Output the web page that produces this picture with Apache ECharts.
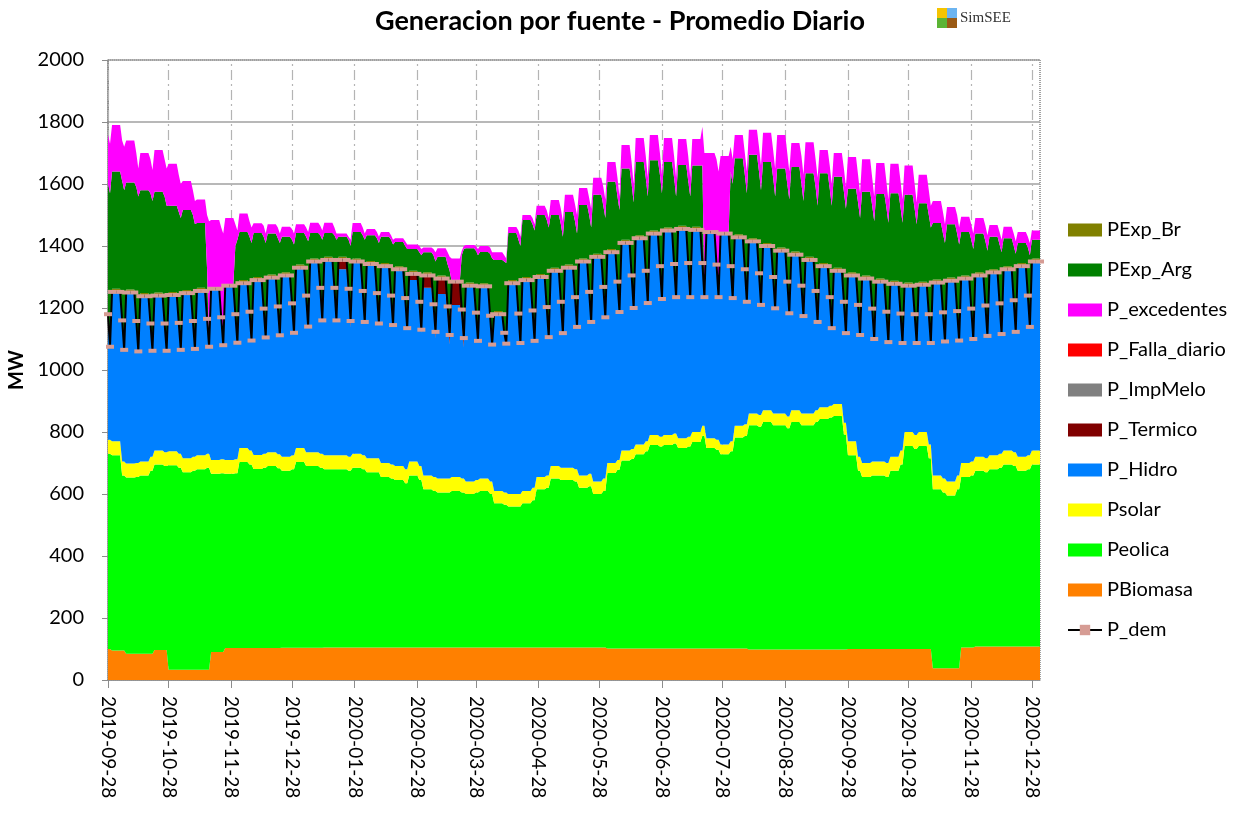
<!DOCTYPE html>
<html>
<head>
<meta charset="utf-8">
<title>Generacion por fuente - Promedio Diario</title>
<script src="https://cdn.jsdelivr.net/npm/echarts/dist/echarts.min.js"></script>
<style>
  html, body { margin: 0; padding: 0; background: #fff; }
  #chart { width: 1257px; height: 814px; }
</style>
</head>
<body>
<div id="chart"></div>
<script>
// semanas: lunes 2019-09-23 + 7k ; puntos por semana = lunes, viernes, sabado, domingo
var firstDay = new Date(2019, 8, 28);
var lastDay = new Date(2021, 0, 1);
var nWeeks = 67;

var monthTicks = ['2019-09-28', '2019-10-28', '2019-11-28', '2019-12-28', '2020-01-28', '2020-02-28',
  '2020-03-28', '2020-04-28', '2020-05-28', '2020-06-28', '2020-07-28', '2020-08-28',
  '2020-09-28', '2020-10-28', '2020-11-28', '2020-12-28'];

// demanda (MW) dia habil / sabado / domingo
var demWd = [null,
  1252, 1250, 1238, 1240, 1242, 1248, 1255, 1262, 1272, 1280,
  1290, 1298, 1305, 1330, 1350, 1355, 1355, 1350, 1342, 1335,
  1325, 1310, 1305, 1295, 1285, 1272, 1270, 1180, 1280, 1290,
  1300, 1320, 1330, 1350, 1365, 1380, 1410, 1425, 1440, 1450,
  1455, 1452, 1445, 1440, 1428, 1415, 1400, 1385, 1372, 1355,
  1335, 1320, 1305, 1295, 1285, 1278, 1272, 1275, 1282, 1288,
  1295, 1305, 1315, 1325, 1335, 1350];
var demSat = [1180,
  1160, 1158, 1150, 1150, 1152, 1158, 1165, 1170, 1180, 1188,
  1198, 1205, 1215, 1240, 1265, 1265, 1262, 1255, 1248, 1240,
  1232, 1220, 1212, 1205, 1195, 1185, 1175, 1120, 1182, 1192,
  1203, 1220, 1235, 1252, 1268, 1285, 1305, 1320, 1335, 1342,
  1345, 1345, 1340, 1335, 1325, 1312, 1300, 1285, 1272, 1255,
  1235, 1220, 1210, 1198, 1188, 1182, 1180, 1180, 1186, 1190,
  1198, 1208, 1215, 1225, 1240, null];
var demSun = [1075,
  1065, 1060, 1062, 1062, 1065, 1068, 1075, 1080, 1088, 1095,
  1105, 1112, 1120, 1140, 1160, 1160, 1158, 1155, 1150, 1145,
  1135, 1130, 1123, 1113, 1103, 1094, 1082, 1085, 1087, 1094,
  1106, 1119, 1139, 1155, 1170, 1187, 1200, 1216, 1229, 1235,
  1235, 1235, 1235, 1232, 1220, 1210, 1199, 1183, 1174, 1155,
  1135, 1119, 1113, 1100, 1090, 1087, 1087, 1087, 1092, 1095,
  1100, 1110, 1116, 1123, 1139, null];

var bioWk = [100,
  95, 85, 85, 97, 33, 33, 33, 90, 103, 103,
  103, 103, 104, 104, 104, 105, 105, 105, 105, 105,
  105, 105, 105, 105, 105, 105, 105, 105, 105, 105,
  105, 105, 105, 105, 105, 102, 102, 102, 102, 102,
  102, 102, 102, 102, 102, 98, 98, 98, 98, 98,
  98, 98, 100, 100, 100, 100, 100, 100, 38, 38,
  105, 108, 108, 108, 108, 108];

var eolWd = [null,
  630, 568, 575, 598, 660, 637, 647, 575, 562, 600,
  578, 587, 571, 599, 586, 575, 575, 580, 565, 550,
  540, 555, 510, 500, 505, 495, 505, 465, 455, 465,
  510, 545, 540, 515, 495, 566, 606, 626, 656, 656,
  646, 666, 646, 626, 680, 724, 734, 724, 734, 724,
  744, 754, 625, 555, 560, 575, 655, 655, 577, 557,
  550, 567, 572, 587, 567, 587];
var eolWe = [630,
  565, 570, 590, 593, 652, 642, 652, 577, 564, 592,
  582, 580, 576, 586, 581, 575, 570, 575, 565, 545,
  530, 540, 505, 500, 500, 500, 495, 460, 455, 475,
  515, 540, 535, 520, 505, 576, 611, 636, 651, 661,
  651, 686, 641, 636, 685, 719, 724, 714, 724, 734,
  749, 694, 575, 560, 555, 595, 645, 615, 567, 577,
  555, 562, 577, 582, 572, null];

var solWk = [45,
  45, 45, 45, 45, 45, 45, 45, 45, 45, 45,
  45, 45, 45, 45, 45, 45, 45, 45, 45, 45,
  45, 45, 45, 45, 45, 40, 40, 40, 40, 40,
  40, 40, 40, 40, 40, 32, 32, 32, 32, 32,
  32, 32, 32, 32, 38, 38, 38, 38, 38, 38,
  38, 38, 45, 45, 45, 45, 45, 45, 45, 45,
  45, 45, 45, 45, 45, 45];

var hidWd = [null,
  482, 552, 533, 500, 504, 533, 530, 552, 562, 532,
  564, 563, 585, 582, 615, 630, 600, 620, 627, 635,
  635, 585, 605, 595, 555, 632, 620, 570, 680, 680,
  645, 630, 645, 690, 725, 680, 670, 665, 650, 660,
  675, 652, 665, 680, 608, 555, 530, 525, 502, 495,
  455, 430, 535, 595, 580, 558, 472, 475, 622, 648,
  595, 585, 590, 585, 615, 610];
var hidSat = [405,
  455, 458, 430, 415, 422, 438, 435, 458, 468, 448,
  468, 477, 490, 505, 535, 540, 522, 530, 533, 545,
  552, 520, 537, 525, 515, 540, 535, 515, 582, 572,
  543, 535, 555, 587, 618, 575, 560, 550, 550, 547,
  560, 525, 565, 565, 500, 457, 440, 435, 412, 385,
  350, 390, 490, 493, 488, 442, 390, 420, 536, 530,
  493, 493, 485, 490, 515, null];
var hidSun = [300,
  360, 360, 342, 327, 335, 348, 345, 368, 376, 355,
  375, 384, 395, 405, 430, 435, 418, 430, 435, 450,
  455, 430, 448, 433, 423, 449, 442, 480, 487, 474,
  446, 434, 459, 490, 520, 477, 455, 446, 444, 440,
  450, 415, 460, 462, 395, 355, 339, 333, 314, 285,
  250, 289, 393, 395, 390, 347, 297, 327, 442, 435,
  395, 395, 386, 388, 414, null];

var terWd = [null,
  0, 0, 0, 0, 0, 0, 0, 0, 0, 0,
  0, 0, 0, 0, 0, 0, 30, 0, 0, 0,
  0, 20, 40, 50, 75, 0, 0, 0, 0, 0,
  0, 0, 0, 0, 0, 0, 0, 0, 0, 0,
  0, 0, 0, 0, 0, 0, 0, 0, 0, 0,
  0, 0, 0, 0, 0, 0, 0, 0, 0, 0,
  0, 0, 0, 0, 0, 0];
var terWe = [0,
  0, 0, 0, 0, 0, 0, 0, 0, 0, 0,
  0, 0, 0, 0, 0, 0, 20, 0, 0, 0,
  0, 10, 20, 30, 30, 0, 0, 0, 0, 0,
  0, 0, 0, 0, 0, 0, 0, 0, 0, 0,
  0, 0, 0, 0, 0, 0, 0, 0, 0, 0,
  0, 0, 0, 0, 0, 0, 0, 0, 0, 0,
  0, 0, 0, 0, 0, null];

var brWk = [10,
  10, 10, 10, 10, 10, 10, 10, 0, 5, 10,
  10, 10, 10, 10, 10, 10, 10, 10, 10, 10,
  10, 10, 10, 10, 0, 10, 10, 10, 10, 10,
  10, 10, 10, 10, 10, 10, 10, 10, 10, 10,
  10, 10, 0, 5, 10, 10, 10, 10, 10, 10,
  10, 10, 10, 10, 10, 10, 10, 10, 10, 10,
  10, 10, 10, 10, 10, 10];

var argWd = [null,
  378, 345, 332, 325, 278, 258, 209, 0, 0, 155,
  142, 132, 115, 102, 82, 77, 65, 85, 83, 85,
  78, 70, 65, 60, 0, 111, 101, 165, 152, 184,
  190, 170, 170, 172, 190, 217, 230, 236, 227, 211,
  196, 198, 0, 0, 245, 269, 261, 255, 273, 270,
  290, 293, 270, 270, 273, 282, 283, 253, 182, 172,
  140, 125, 105, 90, 65, 60];
var argSat = [410,
  440, 422, 410, 400, 348, 332, 150, 0, 215, 232,
  222, 210, 195, 180, 160, 160, 148, 170, 167, 170,
  158, 150, 148, 125, 175, 190, 190, 220, 228, 268,
  272, 240, 235, 238, 252, 265, 285, 290, 285, 268,
  255, 305, 0, 300, 295, 318, 310, 305, 318, 325,
  340, 345, 320, 322, 327, 333, 330, 310, 244, 240,
  212, 197, 180, 165, 145, null];
var argSun = [485,
  505, 490, 473, 458, 415, 392, 0, 0, 327, 305,
  295, 288, 275, 265, 250, 250, 232, 255, 250, 250,
  245, 230, 217, 197, 287, 266, 268, 250, 303, 346,
  344, 301, 291, 295, 310, 319, 330, 334, 331, 315,
  315, 0, 0, 363, 340, 360, 351, 357, 361, 365,
  385, 391, 367, 370, 375, 378, 373, 363, 308, 300,
  280, 265, 254, 242, 221, null];

var excWd = [null,
  150, 135, 120, 135, 135, 94, 76, 222, 213, 60,
  31, 30, 32, 28, 33, 33, 10, 29, 20, 15,
  12, 15, 15, 28, 75, 10, 19, 25, 19, 16,
  30, 48, 55, 55, 55, 64, 76, 77, 81, 77,
  84, 85, 255, 245, 75, 81, 94, 108, 77, 100,
  75, 77, 102, 105, 100, 95, 95, 92, 71, 56,
  49, 50, 38, 37, 35, 30];
var excSat = [160,
  130, 110, 110, 120, 120, 80, 175, 290, 70, 50,
  35, 35, 35, 30, 30, 25, 10, 25, 20, 15,
  15, 20, 20, 40, 15, 15, 20, 20, 30, 20,
  30, 50, 55, 55, 60, 60, 70, 70, 70, 70,
  80, 125, 340, 80, 70, 80, 90, 100, 90, 90,
  75, 75, 90, 90, 85, 85, 80, 80, 70, 60,
  50, 50, 40, 40, 35, null];
var excSun = [160,
  140, 90, 100, 120, 110, 75, 395, 360, 30, 50,
  30, 30, 35, 30, 30, 20, 20, 20, 20, 15,
  15, 20, 30, 45, 10, 20, 20, 15, 30, 20,
  30, 50, 60, 60, 60, 44, 60, 60, 60, 60,
  60, 455, 405, 80, 70, 80, 90, 90, 85, 90,
  70, 70, 80, 80, 75, 75, 70, 70, 60, 55,
  50, 50, 40, 40, 40, null];

// arma los pares [fecha, valor] de cada semana (lun, vie, sab, dom)
function weekPoints(wd, sat, sun) {
  var out = [];
  for (var k = 0; k < nWeeks; k++) {
    var vals = [wd[k], wd[k], sat[k], sun[k]];
    [0, 4, 5, 6].forEach(function (off, j) {
      var d = new Date(2019, 8, 23 + 7 * k + off);
      if (d >= firstDay && d <= lastDay) out.push([d.getTime(), vals[j]]);
    });
  }
  return out;
}

function toTime(s) {
  var p = s.split('-');
  return new Date(+p[0], +p[1] - 1, +p[2]).getTime();
}
var tickTimes = monthTicks.map(toTime);

function pad(n) { return n < 10 ? '0' + n : '' + n; }
function fmtDate(v) {
  var d = new Date(v);
  return d.getFullYear() + '-' + pad(d.getMonth() + 1) + '-' + pad(d.getDate());
}

function area(name, color, data) {
  return {
    name: name,
    type: 'line',
    stack: 'gen',
    data: data,
    symbol: 'none',
    showSymbol: false,
    lineStyle: { width: 0 },
    itemStyle: { color: color },
    areaStyle: { color: color, opacity: 1 },
    emphasis: { disabled: true },
    z: 2
  };
}

var font = 'Lato, "Open Sans", sans-serif';

var series = [
  area('PBiomasa', '#ff8000', weekPoints(bioWk, bioWk, bioWk)),
  area('Peolica', '#00ff00', weekPoints(eolWd, eolWe, eolWe)),
  area('Psolar', '#ffff00', weekPoints(solWk, solWk, solWk)),
  area('P_Hidro', '#0080ff', weekPoints(hidWd, hidSat, hidSun)),
  area('P_Termico', '#800000', weekPoints(terWd, terWe, terWe)),
  area('P_ImpMelo', '#808080', []),
  area('P_Falla_diario', '#ff0000', []),
  area('PExp_Br', '#808000', weekPoints(brWk, brWk, brWk)),
  area('PExp_Arg', '#008000', weekPoints(argWd, argSat, argSun)),
  area('P_excedentes', '#ff00ff', weekPoints(excWd, excSat, excSun)),
  {
    name: 'P_dem',
    type: 'line',
    data: weekPoints(demWd, demSat, demSun),
    symbol: 'rect',
    symbolSize: [8, 4],
    showSymbol: true,
    lineStyle: { color: '#000', width: 2 },
    itemStyle: { color: '#d69c94' },
    emphasis: { disabled: true },
    z: 5
  }
];

// lineas verticales punteadas en cada mes
series[0].markLine = {
  silent: true,
  symbol: 'none',
  z: 1,
  label: { show: false },
  lineStyle: { color: '#b4b4b4', width: 1.2, type: [10, 4, 2, 4] },
  data: tickTimes.map(function (t) { return { xAxis: t }; })
};

var chart = echarts.init(document.getElementById('chart'));
chart.setOption({
  backgroundColor: '#fff',
  animation: false,
  title: {
    text: 'Generacion por fuente - Promedio Diario',
    left: 370,
    top: 3,
    textStyle: { fontFamily: font, fontWeight: 'bold', fontSize: 27, color: '#000' }
  },
  graphic: [{
    type: 'group',
    left: 937,
    top: 8,
    children: [
      { type: 'rect', shape: { x: 0, y: 0, width: 10, height: 10 }, style: { fill: '#f5c400' } },
      { type: 'rect', shape: { x: 10, y: 0, width: 10, height: 10 }, style: { fill: '#6cb4f0' } },
      { type: 'rect', shape: { x: 0, y: 10, width: 10, height: 10 }, style: { fill: '#5bb434' } },
      { type: 'rect', shape: { x: 10, y: 10, width: 10, height: 10 }, style: { fill: '#9a5a14' } },
      { type: 'text', x: 23, y: 3, style: { text: 'SimSEE', fontFamily: '"Liberation Serif", serif', fontSize: 15, fill: '#333' } }
    ]
  }],
  legend: {
    orient: 'vertical',
    left: 1062,
    top: 215,
    itemWidth: 34,
    itemHeight: 13,
    itemGap: 20,
    textStyle: { fontFamily: font, fontSize: 20, lineHeight: 20, color: '#000' },
    data: [
      { name: 'PExp_Br', icon: 'rect' },
      { name: 'PExp_Arg', icon: 'rect' },
      { name: 'P_excedentes', icon: 'rect' },
      { name: 'P_Falla_diario', icon: 'rect' },
      { name: 'P_ImpMelo', icon: 'rect' },
      { name: 'P_Termico', icon: 'rect' },
      { name: 'P_Hidro', icon: 'rect' },
      { name: 'Psolar', icon: 'rect' },
      { name: 'Peolica', icon: 'rect' },
      { name: 'PBiomasa', icon: 'rect' },
      { name: 'P_dem' }
    ]
  },
  grid: {
    left: 108,
    right: 217,
    top: 60,
    bottom: 134,
    outerBoundsMode: 'none',
    containLabel: false,
    show: true,
    borderColor: '#444',
    borderWidth: 1,
    borderType: 'dotted'
  },
  xAxis: [{
    // eje de tiempo de las series (oculto)
    type: 'time',
    position: 'top',
    show: false,
    min: firstDay.getTime(),
    max: lastDay.getTime(),
    splitLine: { show: false }
  }, {
    // eje visible con las fechas de cada mes
    type: 'value',
    position: 'bottom',
    min: firstDay.getTime(),
    max: lastDay.getTime(),
    axisLine: { show: true, lineStyle: { color: '#8c8c8c', width: 1.5 } },
    axisTick: { show: true, customValues: tickTimes, length: 8, lineStyle: { color: '#8c8c8c' } },
    axisLabel: {
      customValues: tickTimes,
      rotate: -90,
      margin: 16,
      formatter: fmtDate,
      fontFamily: font,
      fontSize: 19,
      color: '#000'
    },
    splitLine: { show: false }
  }],
  yAxis: {
    type: 'value',
    min: 0,
    max: 2000,
    interval: 200,
    name: 'MW',
    nameLocation: 'middle',
    nameRotate: 90,
    nameGap: 80,
    nameTextStyle: { fontFamily: font, fontWeight: 'bold', fontSize: 20, color: '#000' },
    axisLine: { show: true, lineStyle: { color: '#8c8c8c', width: 1.5 } },
    axisTick: { show: true, length: 6, lineStyle: { color: '#8c8c8c' } },
    axisLabel: {
      fontFamily: font, fontSize: 20, color: '#000', margin: 24,
      formatter: function (v) { return String(v); }
    },
    splitLine: { lineStyle: { color: '#a0a0a0', width: 1.5 } }
  },
  series: series
});
</script>
</body>
</html>
